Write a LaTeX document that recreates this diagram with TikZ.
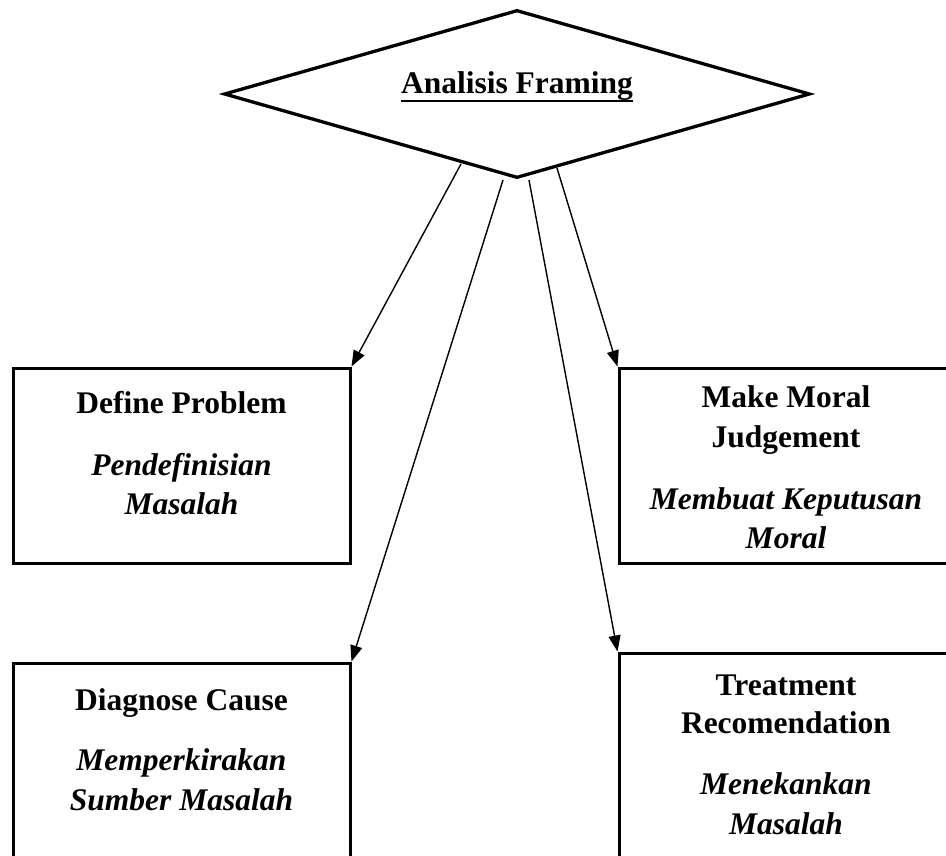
\documentclass[tikz,border=0pt]{standalone}
\usepackage{fontspec}
\setmainfont{Liberation Serif}
\usetikzlibrary{shapes.geometric,arrows.meta}
\begin{document}
\begin{tikzpicture}[x=1pt,y=-1pt,
  hd/.style={font=\fontsize{31.5}{38}\selectfont\bfseries, anchor=base, inner sep=0pt},
  sb/.style={font=\fontsize{31.5}{38}\selectfont\bfseries\itshape, anchor=base, inner sep=0pt},
  box/.style={draw, line width=3pt, rectangle, inner sep=0pt},
  arr/.style={line width=1.4pt, -{Triangle[length=16pt,width=12pt]}}]
\useasboundingbox (0,0) rectangle (946,855);
\clip (0,0) rectangle (946,855);
% diamond
\node[diamond, draw, line width=3.3pt, minimum width=586pt, minimum height=168pt, inner sep=0pt] (af) at (517,94) {};
\node[hd] (aft) at (517,93) {Analisis Framing};
\draw[line width=2.2pt] ([yshift=-8pt]aft.base west) -- ([yshift=-8pt]aft.base east);
% boxes
\node[box, minimum width=337pt, minimum height=195pt] (dp) at (181.5,465.5) {};
\node[box, minimum width=334pt, minimum height=195pt] (mm) at (786,465.5) {};
\node[box, minimum width=337pt, minimum height=240pt] (dc) at (181.5,783) {};
\node[box, minimum width=334pt, minimum height=250pt] (tr) at (786,778) {};
% texts
\node[hd] (dp1) at (181.5,413) {Define Problem};
\node[sb] (dp2) at (181.5,475) {Pendefinisian};
\node[sb] (dp3) at (181.5,514) {Masalah};
\node[hd] (mm1) at (786,407) {Make Moral};
\node[hd] (mm2) at (786,447) {Judgement};
\node[sb] (mm3) at (786,509) {Membuat Keputusan};
\node[sb] (mm4) at (786,548) {Moral};
\node[hd] (dc1) at (181.5,710) {Diagnose Cause};
\node[sb] (dc2) at (181.5,770) {Memperkirakan};
\node[sb] (dc3) at (181.5,810) {Sumber Masalah};
\node[hd] (tr1) at (786,695) {Treatment};
\node[hd] (tr2) at (786,733) {Recomendation};
\node[sb] (tr3) at (786,794) {Menekankan};
\node[sb] (tr4) at (786,834) {Masalah};
% arrows
\coordinate (s1) at (461,164);
\coordinate (s2) at (503,180);
\coordinate (s3) at (529,180);
\coordinate (s4) at (557,168);
\draw[arr] (s1) -- (dp.north east);
\draw[arr] (s2) -- (dc.north east);
\draw[arr] (s3) -- (tr.north west);
\draw[arr] (s4) -- (mm.north west);
\end{tikzpicture}
\end{document}
